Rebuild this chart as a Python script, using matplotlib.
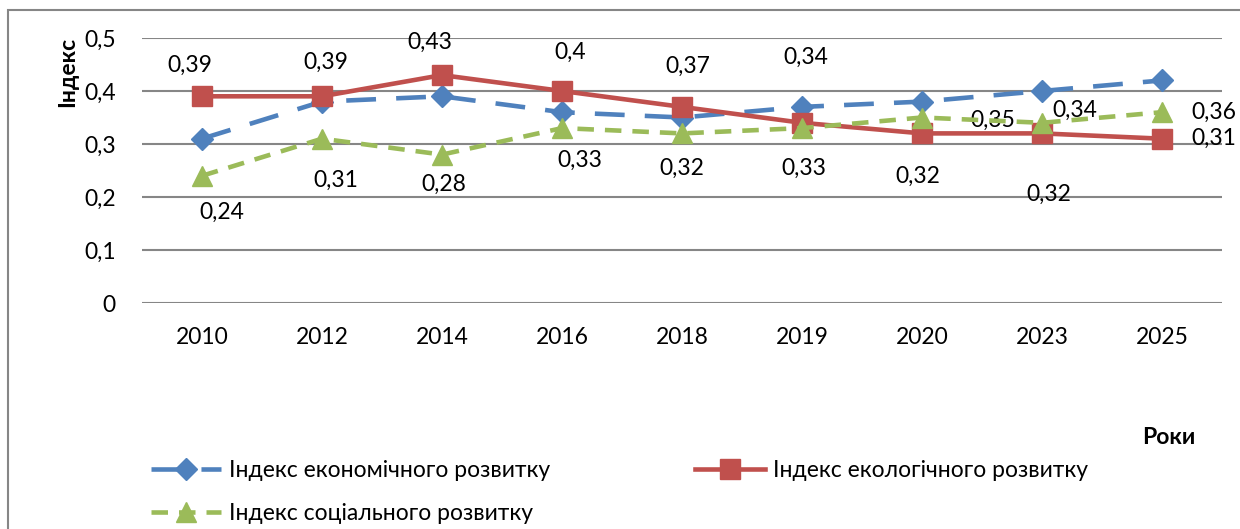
import matplotlib
matplotlib.use("Agg")
import matplotlib.pyplot as plt
from matplotlib.patches import Rectangle

plt.rcParams['font.family'] = ['Lato', 'DejaVu Sans']

years = ['2010', '2012', '2014', '2016', '2018', '2019', '2020', '2023', '2025']
econ = [0.31, 0.38, 0.39, 0.36, 0.35, 0.37, 0.38, 0.40, 0.42]
ecol = [0.39, 0.39, 0.43, 0.40, 0.37, 0.34, 0.32, 0.32, 0.31]
soc = [0.24, 0.31, 0.28, 0.33, 0.32, 0.33, 0.35, 0.34, 0.36]
yticks = [0, 0.1, 0.2, 0.3, 0.4, 0.5]

names = ['Індекс економічного розвитку', 'Індекс екологічного розвитку',
         'Індекс соціального розвитку']

# label offsets in pixels (hand placed like in the excel original)
ecol_off = [(-12, 31), (4, 34), (-12, 33), (8, 39), (6, 41), (4, 65), (-4, -43), (7, -61), (52, 0)]
soc_off = [(20, -37), (14, -42), (2, -30), (18, -32), (0, -35), (2, -40), (71, -3), (33, 12), (52, 0)]

FS = 16.5

def fmt(v):
    return ('%g' % v).replace('.', ',')

fig = plt.figure(figsize=(12.4, 5.29), dpi=100)
ax = fig.add_axes([142/1240, 1 - 303/529, 1080/1240, 265/529])

x = list(range(len(years)))
blue, red, green = '#4F81BD', '#C0504D', '#9BBB59'

l1, = ax.plot(x, econ, color=blue, lw=3.3, linestyle=(0, (6.5, 4.4)),
              marker='D', markersize=11, zorder=3, label=names[0])
l2, = ax.plot(x, ecol, color=red, lw=3.3, marker='s', markersize=14,
              zorder=4, label=names[1])
l3, = ax.plot(x, soc, color=green, lw=3.3, linestyle=(0, (3.6, 2.4)),
              marker='^', markersize=14, zorder=5, label=names[2])

for i in x:
    ax.annotate(fmt(ecol[i]), (i, ecol[i]), xytext=ecol_off[i], textcoords='offset pixels',
                ha='center', va='center', fontsize=FS, annotation_clip=False)
    ax.annotate(fmt(soc[i]), (i, soc[i]), xytext=soc_off[i], textcoords='offset pixels',
                ha='center', va='center', fontsize=FS, annotation_clip=False)

ax.set_xlim(-0.5, len(years) - 0.5)
ax.set_ylim(0, 0.5)
ax.set_yticks(yticks)
ax.set_yticklabels([fmt(v) for v in yticks])
ax.set_xticks(x)
ax.set_xticklabels(years)
ax.tick_params(length=0, labelsize=FS)
ax.tick_params(axis='y', pad=19)
ax.tick_params(axis='x', pad=17)
ax.grid(axis='y', color='#868686', lw=1.5)
ax.set_axisbelow(True)
for s in ax.spines.values():
    s.set_visible(False)

fig.text(68/1240, 1 - 72/529, 'Індекс', rotation=90, fontsize=FS, fontweight='bold',
         ha='center', va='center')
fig.text(1195/1240, 1 - 437/529, 'Роки', fontsize=FS, fontweight='bold',
         ha='right', va='center')

fig.legend([l1, l3, l2], [names[0], names[2], names[1]], ncol=2,
           loc='upper left', bbox_to_anchor=(140/1240, 1 - 449/529),
           frameon=False, fontsize=FS, handlelength=3.05, handletextpad=0.35,
           labelspacing=0.95, columnspacing=6.3, borderpad=0)

fig.patches.append(Rectangle((8/1240, -0.1), 1, 1.1 - 10/529, transform=fig.transFigure,
                             fill=False, edgecolor='#868686', lw=1.5))

fig.savefig('out.png', dpi=100)
